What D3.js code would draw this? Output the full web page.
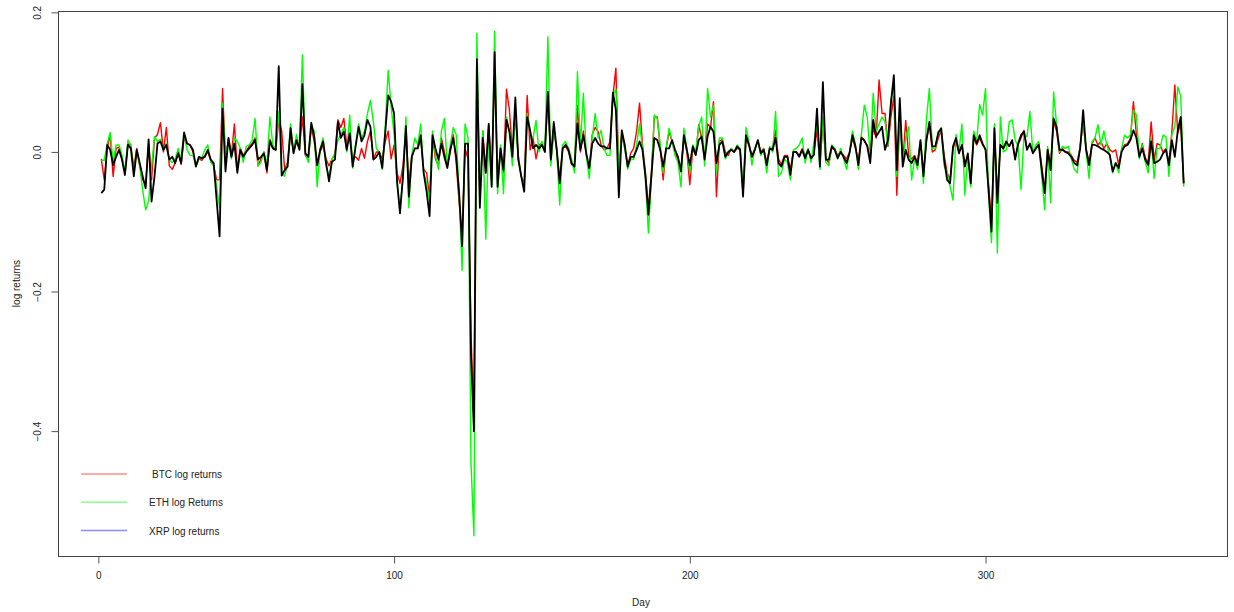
<!DOCTYPE html>
<html>
<head>
<meta charset="utf-8">
<script src="https://cdn.jsdelivr.net/npm/d3@7"></script>
<style>
  body { margin: 0; background: #fff; }
  text { font-family: "Liberation Sans", Arial, sans-serif; fill: #222; }
</style>
</head>
<body>
<svg id="chart"></svg>
<script>
// daily log returns (day 1..367)
var btc = [
 -0.010,-0.040,0.005,0.025,-0.035,0.005,0.007,-0.010,-0.030,0.012,
 0.008,-0.022,0.005,-0.020,-0.040,-0.047,0.012,-0.040,0.020,0.025,
 0.042,0.000,0.035,-0.020,-0.025,-0.015,0.000,-0.018,0.020,0.012,
 0.010,0.000,-0.020,-0.010,-0.012,-0.005,0.000,-0.012,-0.020,-0.040,
 -0.040,0.091,-0.010,0.020,-0.005,0.040,-0.025,0.005,-0.005,0.002,
 0.008,0.012,0.020,-0.020,-0.010,0.000,-0.030,0.018,0.008,0.003,
 0.045,0.030,-0.025,-0.015,0.025,0.000,0.015,0.005,0.050,-0.005,
 -0.010,0.035,0.015,-0.020,0.000,0.010,-0.010,-0.020,-0.010,-0.005,
 0.046,0.035,0.048,0.010,0.020,-0.010,-0.007,-0.012,0.005,-0.009,
 0.015,0.030,-0.010,0.000,0.000,-0.010,0.015,0.030,-0.010,0.010,
 -0.030,-0.045,-0.020,0.030,-0.045,-0.005,0.005,0.005,0.020,-0.025,
 -0.030,-0.065,0.020,-0.010,-0.020,0.020,0.000,-0.020,0.000,0.025,
 -0.015,-0.073,-0.120,0.005,-0.010,-0.260,-0.380,0.120,-0.070,0.030,
 -0.030,0.040,-0.040,0.120,-0.045,0.005,-0.030,0.090,0.060,0.000,
 0.050,-0.005,-0.035,-0.045,0.081,0.003,0.020,-0.010,0.010,0.012,
 0.000,0.080,-0.015,0.030,0.005,-0.040,0.005,0.008,0.000,-0.018,
 -0.020,0.067,0.000,0.030,-0.005,-0.025,0.025,0.035,0.029,0.010,
 0.003,0.005,0.015,0.080,0.120,-0.030,0.025,0.005,-0.020,-0.002,
 0.005,0.029,0.070,0.010,-0.030,-0.080,-0.030,0.050,0.050,0.005,
 -0.040,0.005,0.029,0.015,0.000,-0.010,-0.025,0.020,0.000,-0.047,
 0.005,-0.005,0.039,0.020,-0.010,0.040,0.035,0.072,-0.064,0.015,
 0.018,0.000,-0.005,0.005,0.000,0.005,0.005,-0.060,0.020,0.010,
 -0.005,0.005,0.015,0.000,0.005,-0.015,0.005,0.005,0.031,-0.010,
 -0.018,-0.005,-0.005,-0.025,0.000,0.000,-0.005,0.005,-0.005,0.003,
 -0.010,0.000,0.031,-0.015,0.040,-0.010,-0.016,0.005,0.005,-0.005,
 0.000,-0.005,-0.010,0.000,0.020,0.005,-0.012,0.022,0.015,0.010,
 -0.010,0.035,0.020,0.103,0.055,0.055,0.008,0.050,0.080,-0.062,
 0.050,-0.015,0.045,-0.005,-0.010,-0.005,-0.015,0.015,-0.030,0.015,
 0.040,0.000,0.003,0.020,0.030,-0.005,-0.030,-0.040,0.005,0.015,
 0.000,0.008,-0.015,-0.007,-0.040,0.020,0.010,0.020,0.010,0.005,
 -0.045,-0.100,0.030,-0.065,0.010,0.005,0.012,0.008,0.015,-0.008,
 0.010,0.020,0.031,0.005,0.010,0.000,0.005,0.012,-0.020,-0.055,
 0.005,-0.020,0.043,0.030,-0.002,0.005,0.000,0.000,-0.005,-0.012,
 -0.015,0.008,0.040,0.005,-0.015,0.012,0.020,0.010,0.015,0.005,
 0.012,0.003,0.000,0.003,-0.018,0.003,0.010,0.012,0.020,0.072,
 0.025,-0.005,0.012,-0.008,-0.015,0.043,-0.012,0.012,0.010,0.000,
 0.005,-0.015,0.029,0.096,0.027,0.040,-0.045
];
var eth = [
 -0.012,-0.012,0.012,0.028,-0.015,0.010,0.010,-0.005,-0.028,0.017,
 0.010,-0.030,0.000,-0.020,-0.055,-0.083,-0.070,-0.020,0.022,0.015,
 0.018,0.003,0.012,-0.012,-0.015,-0.010,0.005,-0.010,0.025,0.003,
 -0.005,-0.005,-0.020,-0.010,-0.008,0.003,0.010,-0.015,-0.020,-0.050,
 -0.080,0.070,-0.005,0.015,-0.010,0.020,0.015,0.005,-0.015,0.008,
 0.010,0.017,0.048,-0.020,-0.015,0.000,-0.019,0.050,0.010,0.005,
 0.058,-0.030,-0.035,-0.016,0.040,0.000,0.025,0.005,0.139,-0.002,
 -0.015,0.036,0.030,-0.050,0.005,0.020,-0.020,-0.035,-0.010,-0.002,
 0.017,0.025,0.035,0.000,0.053,-0.023,0.012,0.040,0.020,0.030,
 0.055,0.074,0.043,0.005,0.000,-0.025,0.035,0.117,0.065,0.025,
 -0.045,-0.080,-0.040,0.050,-0.080,-0.005,0.020,0.010,0.040,-0.030,
 -0.045,-0.070,0.030,-0.005,-0.025,0.030,0.048,-0.020,0.010,0.035,
 0.025,-0.060,-0.170,0.040,0.020,-0.445,-0.550,0.170,-0.060,0.030,
 -0.125,0.030,-0.050,0.173,-0.060,0.010,-0.060,0.050,0.030,-0.020,
 0.060,-0.010,-0.035,-0.050,0.055,0.025,0.020,0.045,0.000,0.015,
 0.000,0.165,-0.020,0.035,0.000,-0.076,0.010,0.015,0.005,-0.010,
 -0.030,0.115,0.010,0.084,-0.005,-0.038,0.020,0.055,0.020,0.031,
 0.005,-0.005,-0.005,0.080,0.090,-0.030,0.030,0.005,-0.025,-0.010,
 -0.011,0.010,0.040,0.005,-0.040,-0.116,-0.040,0.053,0.048,0.010,
 -0.030,0.005,0.034,0.015,-0.005,-0.015,-0.050,0.034,0.005,-0.030,
 0.010,0.000,0.036,0.050,-0.020,0.091,0.050,0.067,-0.030,0.020,
 0.020,-0.010,0.000,0.005,0.000,0.010,0.005,-0.050,0.035,0.015,
 -0.019,0.005,0.017,-0.005,0.005,-0.030,0.008,0.000,0.058,-0.035,
 -0.030,-0.010,-0.015,-0.040,0.003,0.005,0.010,0.020,-0.016,0.005,
 -0.015,0.015,0.040,-0.025,0.050,-0.015,-0.020,0.010,0.005,-0.010,
 0.005,-0.010,-0.025,0.000,0.030,0.010,-0.025,0.025,0.067,0.050,
 -0.005,0.084,0.030,0.040,0.050,0.043,0.010,0.075,0.095,-0.035,
 0.060,-0.020,0.020,0.036,-0.040,-0.010,-0.025,0.017,-0.045,0.046,
 0.091,0.005,0.005,0.030,0.030,-0.020,-0.030,-0.050,-0.069,0.025,
 0.000,0.040,-0.062,-0.005,-0.050,0.030,0.015,0.068,0.053,0.091,
 -0.060,-0.130,0.040,-0.145,0.050,0.000,0.003,0.043,0.046,0.017,
 0.008,-0.054,0.025,0.022,0.058,-0.002,0.010,0.015,-0.035,-0.083,
 0.008,-0.073,0.086,0.040,0.000,0.008,0.005,0.008,-0.010,-0.025,
 -0.030,0.010,0.045,0.000,-0.038,0.015,0.020,0.039,0.010,0.030,
 0.010,-0.005,-0.030,-0.015,-0.030,0.005,0.024,0.020,0.025,0.060,
 0.053,-0.010,0.010,-0.015,-0.030,0.020,-0.038,0.005,0.005,0.024,
 0.022,-0.035,0.025,0.036,0.093,0.080,-0.050
];
var xrp = [
 -0.059,-0.054,0.010,0.003,-0.019,-0.007,0.003,-0.011,-0.033,0.010,
 0.005,-0.035,0.003,-0.016,-0.035,-0.052,0.018,-0.071,-0.035,0.012,
 0.015,0.003,0.010,-0.011,-0.007,-0.016,-0.002,-0.016,0.028,0.012,
 0.010,0.003,-0.021,-0.007,-0.009,-0.007,0.003,-0.011,-0.016,-0.069,
 -0.121,0.062,-0.028,0.020,-0.007,0.012,-0.030,0.003,-0.007,0.000,
 0.005,0.010,0.017,-0.011,-0.007,-0.002,-0.026,0.015,0.005,0.003,
 0.123,-0.034,-0.026,-0.021,0.034,-0.002,0.017,0.003,0.097,-0.002,
 -0.007,0.042,0.022,-0.019,0.003,0.015,-0.016,-0.042,-0.014,-0.011,
 0.043,0.020,0.029,0.003,0.027,-0.021,0.008,0.036,0.015,0.024,
 0.046,0.036,-0.011,-0.007,0.000,-0.023,0.027,0.081,0.072,0.055,
 -0.042,-0.088,-0.035,0.037,-0.064,-0.007,0.005,0.005,0.024,-0.030,
 -0.057,-0.092,0.024,0.005,-0.011,0.012,-0.007,-0.023,0.003,0.020,
 -0.007,-0.059,-0.135,0.012,0.012,-0.290,-0.400,0.133,-0.080,0.020,
 -0.030,0.040,-0.050,0.143,-0.050,0.005,-0.026,0.046,0.029,-0.007,
 0.078,-0.011,-0.035,-0.057,0.050,0.031,0.005,0.010,0.005,0.010,
 0.000,0.086,-0.011,0.043,0.003,-0.045,0.005,0.010,0.003,-0.016,
 -0.021,0.041,0.003,0.024,-0.002,-0.023,0.012,0.020,0.012,0.008,
 0.008,0.005,0.005,0.085,0.060,-0.065,0.031,0.010,-0.021,-0.007,
 -0.007,0.003,0.015,0.003,-0.035,-0.090,-0.035,0.020,0.017,0.003,
 -0.021,0.005,0.005,0.017,0.003,-0.007,-0.028,0.024,0.003,-0.019,
 0.008,-0.004,0.017,0.022,-0.011,0.022,0.036,0.029,-0.016,0.010,
 0.015,-0.007,0.000,0.003,0.000,0.008,0.003,-0.064,0.024,0.010,
 -0.007,0.003,0.017,-0.002,0.003,-0.019,0.005,0.003,0.020,-0.016,
 -0.021,-0.007,-0.007,-0.033,0.000,0.000,-0.007,0.003,-0.009,0.003,
 -0.009,-0.004,0.062,-0.021,0.100,-0.011,-0.011,0.008,0.003,-0.009,
 0.000,-0.007,-0.016,-0.002,0.024,0.008,-0.019,0.020,0.017,0.008,
 -0.016,0.046,0.022,0.029,0.036,0.003,0.017,0.070,0.110,-0.026,
 0.077,-0.021,0.003,-0.011,-0.016,-0.007,-0.019,0.017,-0.035,0.017,
 0.043,0.008,0.008,0.027,0.034,-0.011,-0.040,-0.045,0.008,0.020,
 -0.002,0.010,-0.021,-0.002,-0.045,0.024,0.012,0.024,0.012,0.003,
 -0.054,-0.114,0.034,-0.073,0.010,0.005,0.015,0.008,0.017,-0.011,
 0.012,0.024,0.029,0.003,0.012,-0.002,0.005,0.010,-0.026,-0.059,
 0.003,-0.026,0.048,0.036,0.003,0.003,0.000,-0.002,-0.007,-0.016,
 -0.019,0.005,0.060,0.003,-0.019,0.010,0.010,0.008,0.005,0.003,
 0.000,-0.004,-0.028,-0.016,-0.023,0.000,0.008,0.010,0.017,0.031,
 0.020,-0.007,0.005,-0.011,-0.019,0.015,-0.016,-0.014,-0.011,-0.002,
 0.003,-0.019,0.017,-0.007,0.031,0.050,-0.045
];

var xTicks = [0, 100, 200, 300];
var yTicks = [0.2, 0.0, -0.2, -0.4];
var legendLabels = ["BTC log returns", "ETH log Returns", "XRP log returns"];
var legendColors = ["#ff0000", "#00ff00", "#0000ff"];

var W = 1234, H = 612;
var margin = {left: 58, right: 7, top: 11, bottom: 56};

var svg = d3.select('#chart')
    .attr('width', W)
    .attr('height', H);

svg.append('rect').attr('width', W).attr('height', H).attr('fill', 'white');

// R style 4% axis expansion
var n = xrp.length;
var xr = [1, n];
var dx = (xr[1] - xr[0]) * 0.04;
var all = btc.concat(eth, xrp);
var yr = d3.extent(all);
var dy = (yr[1] - yr[0]) * 0.04;

var x = d3.scaleLinear()
    .domain([xr[0] - dx, xr[1] + dx])
    .range([margin.left, W - margin.right]);
var y = d3.scaleLinear()
    .domain([yr[0] - dy, yr[1] + dy])
    .range([H - margin.bottom, margin.top]);

var line = d3.line()
    .x((d, i) => x(i + 1))
    .y(d => y(d));

var series = [
    {values: btc, color: '#ff0000', width: 1.4},
    {values: eth, color: '#00ff00', width: 1.4},
    {values: xrp, color: '#000000', width: 1.8}
];

svg.append('g')
    .selectAll('path')
    .data(series)
    .enter()
    .append('path')
        .attr('d', d => line(d.values))
        .attr('fill', 'none')
        .attr('stroke', d => d.color)
        .attr('stroke-width', d => d.width)
        .attr('stroke-linejoin', 'round');

// box
svg.append('rect')
    .attr('x', margin.left + 0.5)
    .attr('y', margin.top + 0.5)
    .attr('width', W - margin.right - margin.left)
    .attr('height', H - margin.bottom - margin.top)
    .attr('fill', 'none')
    .attr('stroke', '#444')
    .attr('stroke-width', 1);

// axes
var xAxis = svg.append('g')
    .attr('transform', 'translate(0,' + (H - margin.bottom + 0.5) + ')')
    .call(d3.axisBottom(x).tickValues(xTicks).tickSize(7).tickPadding(8).tickFormat(d3.format('d')));
var yAxis = svg.append('g')
    .attr('transform', 'translate(' + (margin.left + 0.5) + ',0)')
    .call(d3.axisLeft(y).tickValues(yTicks).tickSize(7).tickFormat(d3.format('.1f')));

[xAxis, yAxis].forEach(function(g) {
    g.select('.domain').remove();
    g.selectAll('line').attr('stroke', '#555');
    g.selectAll('text').style('font-size', '10px').attr('fill', '#222');
});

// rotated y tick labels, like R las=0
yAxis.selectAll('.tick text')
    .attr('x', null)
    .attr('y', 0)
    .attr('dy', '0')
    .attr('transform', 'translate(-18,0) rotate(-90)')
    .attr('text-anchor', 'middle');

svg.append('text')
    .attr('x', x(183.5))
    .attr('y', 606)
    .attr('text-anchor', 'middle')
    .style('font-size', '10px')
    .text('Day');

svg.append('text')
    .attr('transform', 'translate(20,' + ((margin.top + H - margin.bottom) / 2) + ') rotate(-90)')
    .attr('text-anchor', 'middle')
    .style('font-size', '10px')
    .text('log returns');

// legend, no box
var legend = svg.append('g').attr('transform', 'translate(81,474)');
legend.selectAll('line')
    .data(legendLabels)
    .enter()
    .append('line')
        .attr('x1', 0).attr('x2', 46)
        .attr('y1', (d, i) => i * 28.3).attr('y2', (d, i) => i * 28.3)
        .attr('stroke', (d, i) => legendColors[i])
        .attr('stroke-opacity', 0.45)
        .attr('stroke-width', 1.5);
legend.selectAll('text')
    .data(legendLabels)
    .enter()
    .append('text')
        .attr('x', (d, i) => i == 0 ? 71 : 68)
        .attr('y', (d, i) => i * 28.3 + 4)
        .style('font-size', '10px')
        .text(d => d);
</script>
</body>
</html>
